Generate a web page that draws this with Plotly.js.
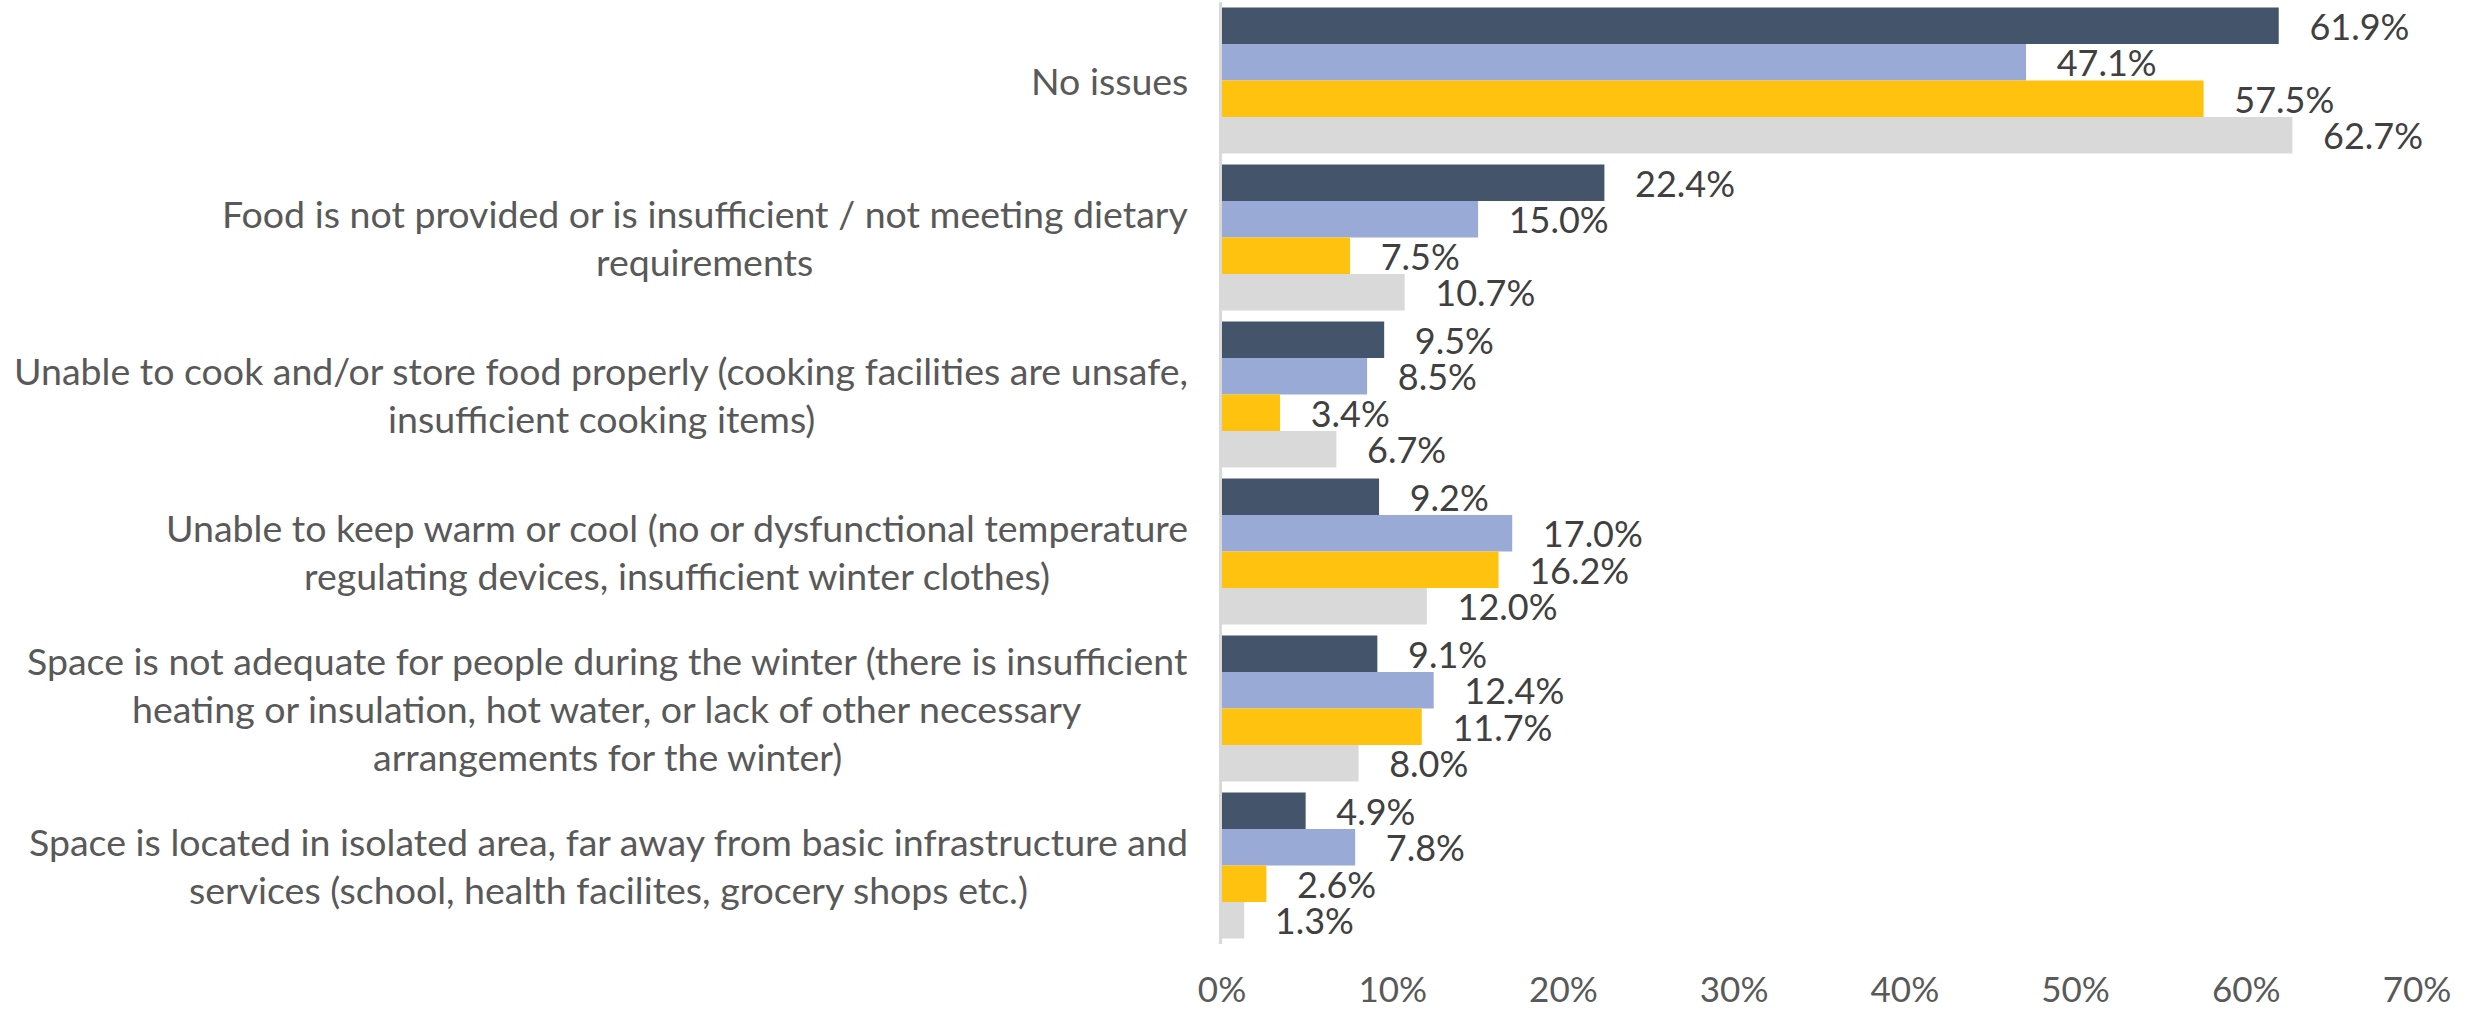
<!DOCTYPE html>
<html>
<head>
<meta charset="utf-8">
<script src="https://cdn.plot.ly/plotly-3.0.1.min.js"></script>
<style>html,body{margin:0;padding:0;background:#fff;}#chart{width:2486px;height:1009px;}</style>
</head>
<body>
<div id="chart"></div>
<script>
var categories = [
  "No issues",
  "Food is not provided or is insufficient / not meeting dietary<br>requirements",
  "Unable to cook and/or store food properly (cooking facilities are unsafe,<br>insufficient cooking items)",
  "Unable to keep warm or cool (no or dysfunctional temperature<br>regulating devices, insufficient winter clothes)",
  "Space is not adequate for people during the winter (there is insufficient<br>heating or insulation, hot water, or lack of other necessary<br>arrangements for the winter)",
  "Space is located in isolated area, far away from basic infrastructure and<br>services (school, health facilites, grocery shops etc.)"
];
var series1 = [61.9, 22.4, 9.5, 9.2, 9.1, 4.9];
var series2 = [47.1, 15.0, 8.5, 17.0, 12.4, 7.8];
var series3 = [57.5, 7.5, 3.4, 16.2, 11.7, 2.6];
var series4 = [62.7, 10.7, 6.7, 12.0, 8.0, 1.3];
var seriesNames = ["Series 1", "Series 2", "Series 3", "Series 4"];
var tickValues = [0, 10, 20, 30, 40, 50, 60, 70];
var tickLabels = ["0%", "10%", "20%", "30%", "40%", "50%", "60%", "70%"];

var colors = ["#44546a", "#99aad6", "#ffc20e", "#d9d9d9"];
var allSeries = [series1, series2, series3, series4];
var FONT = "Lato, 'Open Sans', sans-serif";
var catIdx = categories.map(function(c, i){ return i; });

var traces = allSeries.map(function(vals, k){
  return {
    type: "bar",
    orientation: "h",
    name: seriesNames[k],
    x: vals,
    y: catIdx,
    marker: {color: colors[k]},
    text: vals.map(function(v){ return "\u00a0\u00a0\u00a0" + v.toFixed(1) + "%"; }),
    textposition: "outside",
    constraintext: "none",
    cliponaxis: false,
    textfont: {family: FONT, size: 36, color: "#404040"},
    hoverinfo: "skip"
  };
});

var LINE_H = 48;
var GAP = 32;
var annotations = [];
var groupOf = [];
categories.forEach(function(c, i){
  var lines = c.split("<br>");
  var n = lines.length;
  lines.forEach(function(line, j){
    groupOf.push(i);
    annotations.push({
      xref: "paper", yref: "y", x: 0, y: i,
      xanchor: "right", yanchor: "middle", xshift: -GAP,
      yshift: ((n - 1) / 2 - j) * LINE_H,
      align: "center", showarrow: false,
      text: line,
      font: {family: FONT, size: 37.5, color: "#595959"}
    });
  });
});

var layout = {
  width: 2486, height: 1009,
  margin: {l: 1222, r: 69, t: 2, b: 65, pad: 0},
  paper_bgcolor: "#ffffff", plot_bgcolor: "#ffffff",
  barmode: "group", bargap: 0.07, bargroupgap: 0,
  showlegend: false,
  xaxis: {
    range: [0, 70], tickvals: tickValues, ticktext: tickLabels,
    showgrid: false, zeroline: false, showline: false,
    ticks: "outside", ticklen: 15, tickcolor: "rgba(0,0,0,0)",
    tickfont: {family: FONT, size: 35, color: "#595959"}
  },
  yaxis: {
    range: [5.5, -0.5], tickvals: catIdx, showticklabels: false,
    showgrid: false, zeroline: false,
    showline: true, linecolor: "#d9d9d9", linewidth: 3, ticks: ""
  },
  annotations: annotations
};

Plotly.newPlot("chart", traces, layout, {displayModeBar: false, staticPlot: true}).then(function(gd){
  // center each line of a multi-line category label under the widest line
  var widths = [];
  gd.querySelectorAll("g.annotation").forEach(function(g){
    var idx = +g.getAttribute("data-index");
    var t = g.querySelector("text.annotation-text");
    widths[idx] = t ? t.getBBox().width : 0;
  });
  var maxW = {};
  widths.forEach(function(w, k){
    var gi = groupOf[k];
    maxW[gi] = Math.max(maxW[gi] || 0, w);
  });
  var upd = {};
  widths.forEach(function(w, k){
    upd["annotations[" + k + "].xshift"] = -GAP - (maxW[groupOf[k]] - w) / 2;
  });
  return Plotly.relayout(gd, upd);
});
</script>
</body>
</html>
